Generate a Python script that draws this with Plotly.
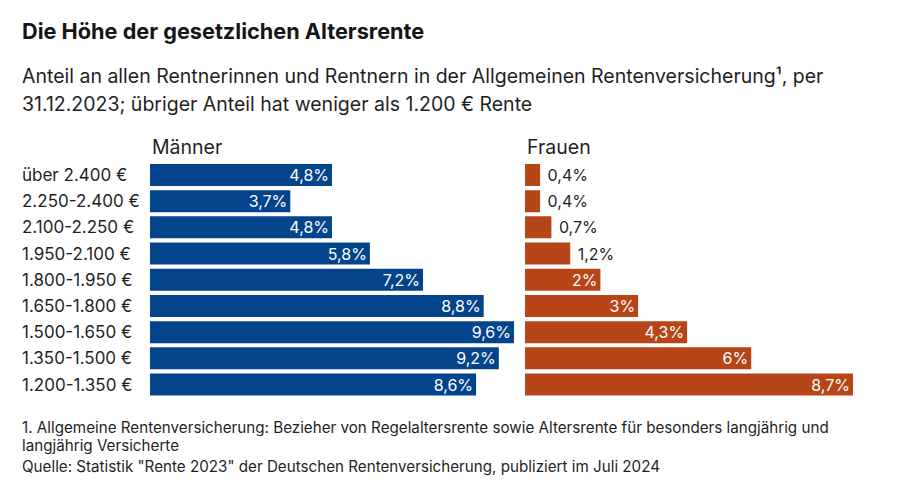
import plotly.graph_objects as go

categories = ["über 2.400 €", "2.250-2.400 €", "2.100-2.250 €", "1.950-2.100 €",
              "1.800-1.950 €", "1.650-1.800 €", "1.500-1.650 €", "1.350-1.500 €",
              "1.200-1.350 €"]
maenner = [4.8, 3.7, 4.8, 5.8, 7.2, 8.8, 9.6, 9.2, 8.6]
frauen = [0.4, 0.4, 0.7, 1.2, 2, 3, 4.3, 6, 8.7]

BLUE = "#04448B"
ORANGE = "#B64518"
TXT = "#1f1f1f"
FONT = "Inter"
W, H = 900, 488


def fmt(v):
    return "{:g}".format(v).replace(".", ",") + "%"


def py(px):
    return 1 - px / H


def px_x(px):
    return px / W


fig = go.Figure()

fig.add_trace(go.Bar(
    x=maenner, y=categories, orientation="h", xaxis="x", yaxis="y",
    marker=dict(color=BLUE, line=dict(width=0)),
    text=[fmt(v) for v in maenner], textposition="inside",
    insidetextanchor="end", constraintext="none",
    insidetextfont=dict(color="white", size=16, family=FONT),
    width=0.84, hoverinfo="skip", cliponaxis=False,
))

fpos = ["outside" if v < 1.5 else "inside" for v in frauen]
ftext = [(" " + fmt(v)) if p == "outside" else fmt(v) for v, p in zip(frauen, fpos)]
fig.add_trace(go.Bar(
    x=frauen, y=categories, orientation="h", xaxis="x2", yaxis="y2",
    marker=dict(color=ORANGE, line=dict(width=0)),
    text=ftext, textposition=fpos,
    insidetextanchor="end", constraintext="none",
    insidetextfont=dict(color="white", size=16, family=FONT),
    outsidetextfont=dict(color=TXT, size=16, family=FONT),
    width=0.84, hoverinfo="skip", cliponaxis=False,
))

ydom = [py(397.6), py(161.9)]
fig.update_layout(
    width=W, height=H, margin=dict(l=0, r=0, t=0, b=0),
    paper_bgcolor="white", plot_bgcolor="white",
    showlegend=False, bargap=0.16,
    font=dict(family=FONT, color=TXT),
    xaxis=dict(domain=[px_x(150), px_x(514)], range=[0, 9.6], visible=False, fixedrange=True),
    xaxis2=dict(domain=[px_x(525), px_x(853)], range=[0, 8.7], visible=False, fixedrange=True),
    yaxis=dict(domain=ydom, categoryorder="array", categoryarray=categories,
               autorange="reversed", visible=False, anchor="x"),
    yaxis2=dict(domain=ydom, categoryorder="array", categoryarray=categories,
                autorange="reversed", visible=False, anchor="x2"),
)

ann = []
for c in categories:
    ann.append(dict(text=c, x=px_x(20), xref="paper", y=c, yref="y",
                    xanchor="left", yanchor="middle", showarrow=False,
                    font=dict(size=17, family=FONT, color=TXT)))


def txt(s, x, y, size, color=TXT):
    return dict(text=s, x=px_x(x), y=py(y), xref="paper", yref="paper",
                xanchor="left", yanchor="middle", align="left", showarrow=False,
                font=dict(size=size, family=FONT, color=color))


ann.append(txt("<b>Die Höhe der gesetzlichen Altersrente</b>", 20, 31, 21.7, "#151515"))
ann.append(txt("Anteil an allen Rentnerinnen und Rentnern in der Allgemeinen Rentenversicherung¹, per", 20, 76, 19.5))
ann.append(txt("31.12.2023; übriger Anteil hat weniger als 1.200 € Rente", 20, 104, 19.5))
ann.append(txt("Männer", 150, 147, 19.5))
ann.append(txt("Frauen", 525, 147, 19.5))
ann.append(txt("1. Allgemeine Rentenversicherung: Bezieher von Regelaltersrente sowie Altersrente für besonders langjährig und", 20, 427, 15.2))
ann.append(txt("langjährig Versicherte", 20, 445, 15.2))
ann.append(txt("Quelle: Statistik \"Rente 2023\" der Deutschen Rentenversicherung, publiziert im Juli 2024", 20, 466, 15.2))

fig.update_layout(annotations=ann)
fig.write_html("out.html", config={"displayModeBar": False},
               post_script="document.body.style.margin='0';document.body.style.overflow='hidden';")
